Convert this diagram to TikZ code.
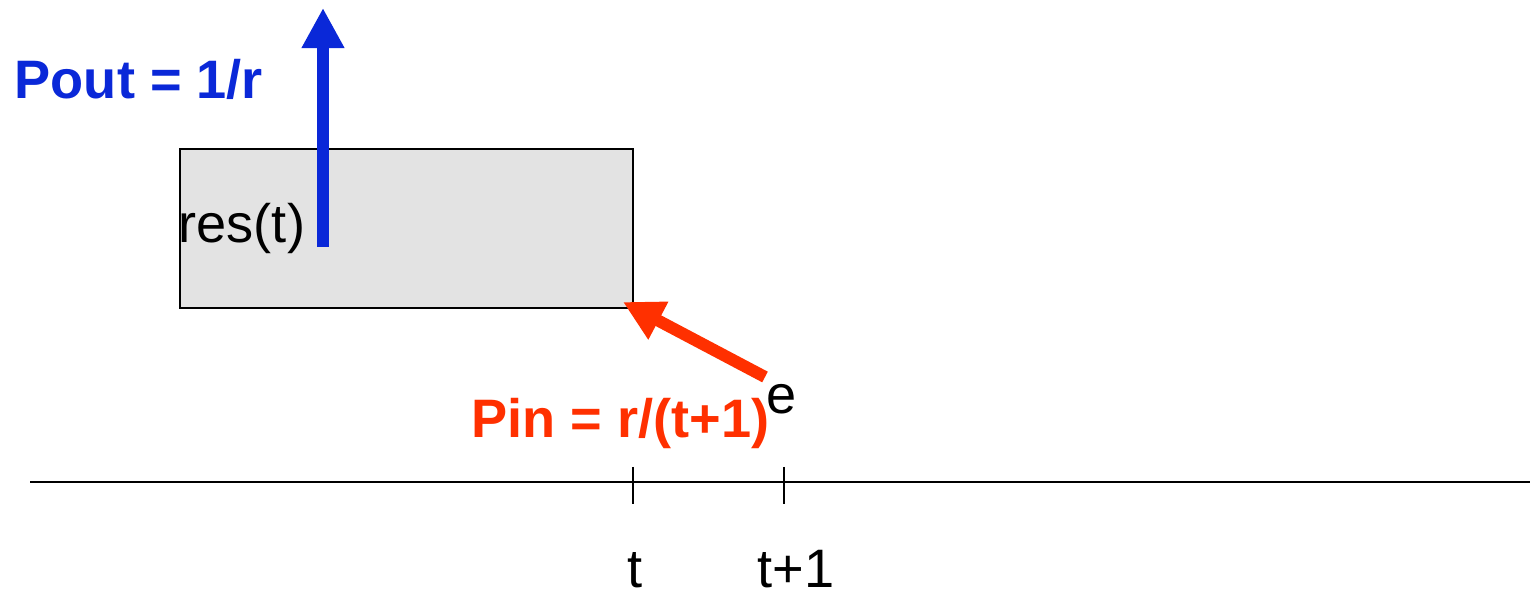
\documentclass[tikz,border=0pt]{standalone}
\usepackage{fontspec}
\setmainfont{Liberation Sans}
\usetikzlibrary{arrows.meta}

\definecolor{outblue}{RGB}{10,40,216}
\definecolor{inred}{RGB}{255,48,0}
\definecolor{resgray}{RGB}{227,227,227}

\begin{document}
\begin{tikzpicture}[
    x=0.01cm, y=-0.01cm,
    label/.style={anchor=base west, inner sep=0pt, font=\fontsize{15.4}{18}\selectfont},
    reservoir/.style={rectangle, draw=black, line width=0.022cm, fill=resgray, minimum width=4.53cm, minimum height=1.59cm, inner sep=0pt},
    axis/.style={line width=0.022cm},
    flow/.style={line width=0.12cm, -{Triangle[length=0.4cm, width=0.4cm]}}
]
\useasboundingbox (0,0) rectangle (1530,595);
% time axis
\coordinate (axl) at (30,482);
\coordinate (axr) at (1530,482);
\draw [axis] (axl) -- (axr);
\coordinate (t0a) at (633,467);
\coordinate (t0b) at (633,504);
\coordinate (t1a) at (784,467);
\coordinate (t1b) at (784,504);
\draw [axis] (t0a) -- (t0b);
\draw [axis] (t1a) -- (t1b);
\node (lt0) [label] at (627,588) {t};
\node (lt1) [label] at (757,588) {t+1};
% reservoir
\node (res) [reservoir] at (406.5,228.5) {};
\node (restext) [label] at (178,243) {res(t)};
% outflow
\coordinate (outa) at (323,247);
\coordinate (outb) at (323,8);
\draw [flow, outblue] (outa) -- (outb);
\node (pout) [label, text=outblue, font=\fontsize{15.4}{18}\selectfont\bfseries] at (14,99) {Pout = 1/r};
% inflow
\coordinate (ina) at (765,377);
\coordinate (inb) at (623,302);
\draw [flow, inred] (ina) -- (inb);
\node (pin) [label, text=inred, font=\fontsize{15.4}{18}\selectfont\bfseries] at (471,438) {Pin = r/(t+1)};
\node (pine) [label] at (766,414) {e};
\end{tikzpicture}
\end{document}
